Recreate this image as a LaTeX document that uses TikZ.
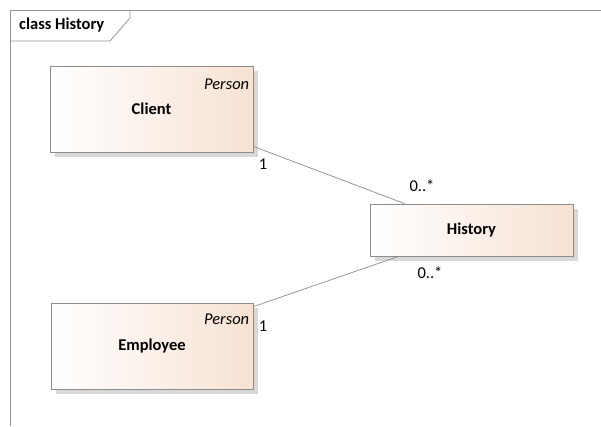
\documentclass[tikz,border=0pt]{standalone}
\usepackage{fontspec}
\setmainfont{Carlito}
\definecolor{peach}{RGB}{247,226,211}
\definecolor{boxline}{RGB}{140,140,140}
\definecolor{shadowc}{RGB}{216,216,216}
\definecolor{framec}{RGB}{150,150,150}
\begin{document}
\begin{tikzpicture}[x=1pt,y=-1pt,
  classbox/.style={draw=boxline, line width=0.8pt, left color=white, right color=peach,
    minimum width=#1, inner sep=0pt, font=\fontsize{16.5}{18}\selectfont\bfseries},
  stereo/.style={font=\fontsize{16.5}{18}\selectfont\itshape, anchor=north east, inner sep=0pt},
  mult/.style={font=\fontsize{16.5}{18}\selectfont, inner sep=0pt},
  assoc/.style={draw=boxline, line width=0.7pt}]
\useasboundingbox (0,0) rectangle (601,426);
\fill[white] (0,0) rectangle (601,426);
% frame
\draw[framec, line width=0.8pt] (601,10) -- (10,10) -- (10,426);
\draw[framec, line width=0.8pt] (10,41) -- (110,41) -- (130,18) -- (130,10);
\node[font=\fontsize{16.5}{18}\selectfont\bfseries, anchor=west, inner sep=0pt] (title) at (19,25) {class History};
% shadows
\fill[shadowc] (55,71) rectangle (258,157);
\fill[shadowc] (375,209) rectangle (578,261);
\fill[shadowc] (56,308) rectangle (258,394);
% classes
\node[classbox=203pt, minimum height=86pt] (client) at (151.5,109) {Client};
\node[classbox=203pt, minimum height=52pt] (history) at (471.5,230) {History};
\node[classbox=202pt, minimum height=86pt] (employee) at (152,346) {Employee};
\node[stereo] (p1) at ([xshift=-4pt,yshift=-13pt]client.north east) {Person};
\node[stereo] (p2) at ([xshift=-4pt,yshift=-11pt]employee.north east) {Person};
% associations
\draw[assoc] ([yshift=6pt]client.south east) -- ([xshift=35pt]history.north west);
\draw[assoc] ([yshift=-4pt]employee.north east) -- ([xshift=29pt]history.south west);
% multiplicities
\node[mult] (m1) at (263,164) {1};
\node[mult] (m2) at (422,186) {0..*};
\node[mult] (m3) at (430,273) {0..*};
\node[mult] (m4) at (263,326) {1};
\end{tikzpicture}
\end{document}
